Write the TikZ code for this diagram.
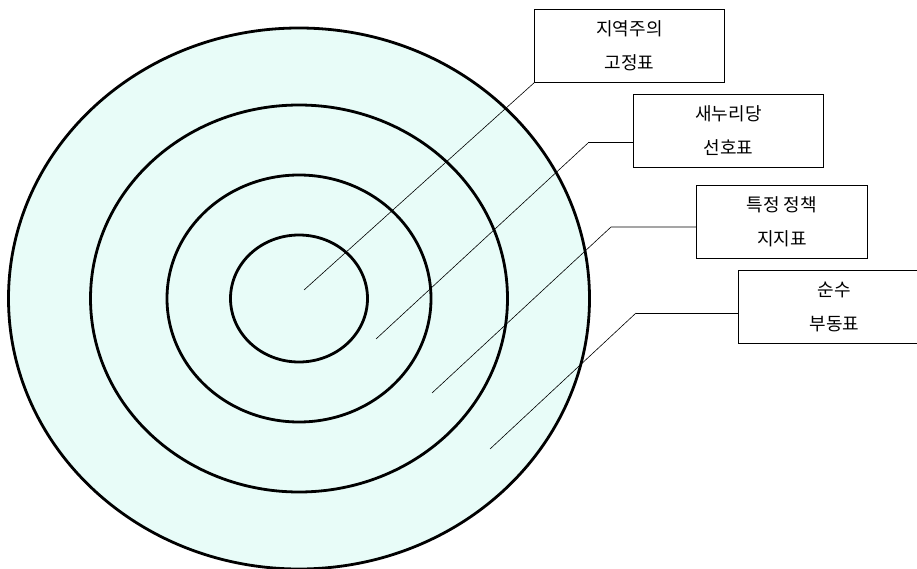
\documentclass[tikz,border=0pt]{standalone}
\usepackage{fontspec}
\setmainfont{Noto Sans CJK KR}
\definecolor{ringfill}{RGB}{232,252,248}

\begin{document}
\begin{tikzpicture}[x=1pt,y=-1pt,
  ring/.style={line width=2.8pt},
  labelbox/.style={draw,line width=0.9pt,anchor=north west,align=center,
    minimum height=73pt,inner sep=0pt,font=\fontsize{18}{34}\selectfont},
  leader/.style={line width=0.6pt}]
  \useasboundingbox (0,0) rectangle (917,569);
  % ===== target rings =====
  \coordinate (C) at (299,298.5);
  \fill[ringfill] (C) ellipse [x radius=290.5pt,y radius=270.5pt];
  \draw[ring] (C) ellipse [x radius=290.5pt,y radius=270.5pt];
  \draw[ring] (C) ellipse [x radius=208.5pt,y radius=193.5pt];
  \draw[ring] (C) ellipse [x radius=132pt,y radius=123.5pt];
  \draw[ring] (C) ellipse [x radius=68.5pt,y radius=63.5pt];
  % ===== label boxes =====
  \node[labelbox,minimum width=190pt] (jiyeok) at (534,9) {지역주의\\고정표};
  \node[labelbox,minimum width=190pt] (saenuri) at (633,94) {새누리당\\선호표};
  \node[labelbox,minimum width=171pt] (jeongchaek) at (696,185) {특정 정책\\지지표};
  \node[labelbox,minimum width=192pt] (budong) at (738,270) {순수\\부동표};
  % ===== leaders =====
  \coordinate (pA) at (304,290);
  \coordinate (pB) at (376,339);
  \coordinate (kB) at (588,143);
  \coordinate (pC) at (432,393);
  \coordinate (kC) at (611,227);
  \coordinate (pD) at (490,449);
  \coordinate (kD) at (636,313);
  \draw[leader] (pA) -- (jiyeok.south west);
  \draw[leader] (pB) -- (kB);
  \draw[line width=1pt] (kB) -- (kB -| saenuri.west);
  \draw[leader] (pC) -- (kC) -- (kC -| jeongchaek.west);
  \draw[leader] (pD) -- (kD);
  \draw[line width=1pt] (kD) -- (kD -| budong.west);
\end{tikzpicture}
\end{document}
